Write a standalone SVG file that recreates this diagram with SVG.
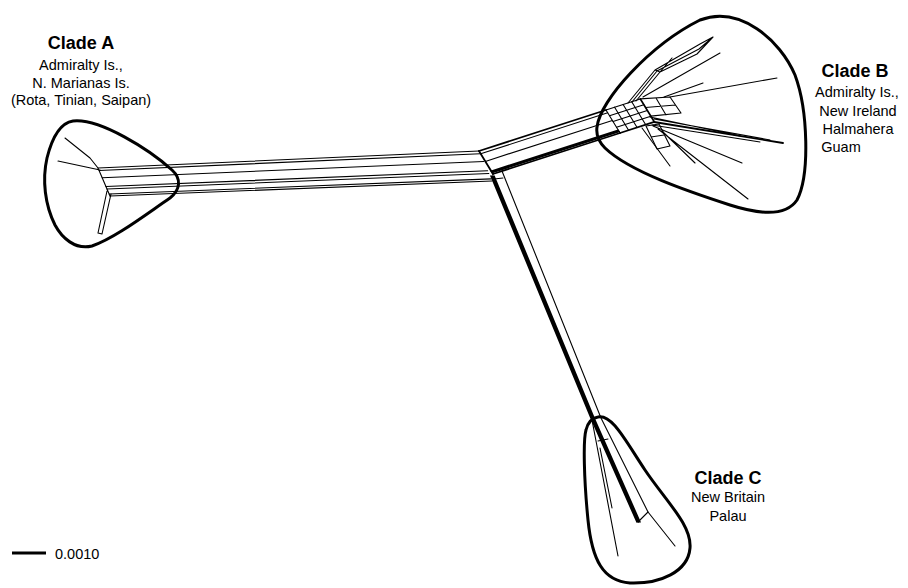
<svg xmlns="http://www.w3.org/2000/svg" width="908" height="588" viewBox="0 0 908 588">
<style>
.ln{stroke:#000;stroke-width:1.1;fill:none;stroke-linecap:round;stroke-linejoin:round}
.hv{stroke-width:1.8}
.st{stroke-width:1.6}
.blob{stroke:#000;stroke-width:3;fill:none}
.t{font-family:"Liberation Sans",Arial,sans-serif;font-size:14.5px;fill:#000;text-anchor:middle}
.b{font-weight:bold;font-size:18px}
</style>
<rect width="908" height="588" fill="#fff"/>

<g id="connectors">
  <!-- band A - center -->
  <path class="ln" d="M98,168 L479,151 M99.1,170.5 L480.2,153.7 M102.2,177.8 L483.6,161.5 M105.9,186.5 L487.6,170.8 M107,189 L488.8,173.5 M109.2,194 L491.1,178.9 M110,196 L492,181"/>
  <!-- center edge -->
  <path class="ln hv" d="M479,151 L493,174"/>
  <!-- band center - B -->
  <path class="ln hv" d="M479,151 L606,110"/>
  <path class="ln" d="M480.7,153.8 L607.7,112.8 M485.3,161.4 L612.3,120.4"/>
  <path class="ln st" d="M491.3,171.2 L618.3,130.2 M492.2,172.6 L619.2,131.6"/>
  <path class="ln hv" d="M493,174 L620,133"/>
  <!-- band center - C -->
  <path class="ln st" d="M491,176 L591,418 L637,522 M492.5,176 L592.5,418 L638.5,522 M494,176 L594,418 L640,522"/>
  <path class="ln" d="M502,171 L601,418 L648,512 M494,179 L503,178"/>
</g>

<g id="clade-a">
  <path class="blob" d="M73,121 C100,118 150,150 172,170 C182,179 180,190 170,198 C145,215 115,238 92,246 C75,250 62,238 55,225 C45,205 42,180 47,158 C52,138 60,123 73,121 Z"/>
  <path class="ln" d="M98,168 L110,196 M65,138 L90,158 L98,168 M58,161 L100,170 M107,191 L98,233 M111,194 L102,234 M98,233 L102,234"/>
  <text class="t b" x="81" y="49">Clade A</text>
  <text class="t" x="81" y="70">Admiralty Is.,</text>
  <text class="t" x="81" y="87.5">N. Marianas Is.</text>
  <text class="t" x="81" y="105">(Rota, Tinian, Saipan)</text>
</g>

<g id="clade-b">
  <path class="blob" d="M597,127 C600,100 650,45 700,20 C740,5 780,40 795,75 C808,110 810,175 797,200 C785,218 755,213 730,205 C690,192 630,172 605,148 C598,141 596,134 597,127 Z"/>
  <!-- grid -->
  <path class="ln" d="M606,110 L640.3,98.9 M609.5,115.75 L643.8,104.65 M613,121.5 L647.3,110.4 M616.5,127.25 L650.8,116.15"/>
  <path class="ln hv" d="M620,133 L654.3,121.9"/>
  <path class="ln" d="M606,110 L620,133 M614.6,107.2 L628.6,130.2 M623.1,104.5 L637.1,127.5 M631.7,101.7 L645.7,124.7"/>
  <path class="ln hv" d="M640.3,98.9 L654.3,121.9"/>
  <!-- upper box -->
  <path class="ln" d="M640.3,98.9 L670,97 L681,113 L650.8,116.15 M645.5,107.5 L675.5,105 M656,98 L666,115"/>
  <!-- upper leaves -->
  <path class="ln" d="M670,97 L777,78 M664,97 L703,83 M643,97 L720,53"/>
  <path class="ln" d="M628,103 L655,70 L700,44 L713,37 M632,102 L657,71 L699,49 L713,37 M636,101 L660,72 L697,54 L713,37 M655,70 L660,72 M660,72 L672,58"/>
  <!-- lower right fan -->
  <path class="ln hv" d="M654,122 L783,143"/>
  <path class="ln" d="M654,119 L770,140 M652,125 L760,142 M650,117 L740,136 M653,126 L742,163 M658,129 L748,199 M642,128 L670,166 M662,131 L695,163"/>
  <path class="ln" d="M646,126 L659,124 L670,146 L657,149 Z M651,137 L664,135"/>
  <text class="t b" x="855" y="77">Clade B</text>
  <text class="t" x="857" y="97">Admiralty Is.,</text>
  <text class="t" x="858" y="115.5">New Ireland</text>
  <text class="t" x="858" y="133.5">Halmahera</text>
  <text class="t" x="841" y="151.5">Guam</text>
</g>

<g id="clade-c">
  <path class="blob" d="M598,417 C612,414 625,440 645,470 C665,500 692,525 690,548 C688,572 660,584 630,583 C603,581 592,560 588,520 C584,480 583,440 586,430 C588,422 592,418 598,417 Z"/>
  <path class="ln" d="M592,420 L618,556 M600,448 L612,508 M648,512 L675,546 M598,441 L608,439 M638,522 L648,512"/>
  <text class="t b" x="728" y="484">Clade C</text>
  <text class="t" x="728" y="502">New Britain</text>
  <text class="t" x="728" y="521">Palau</text>
</g>

<g id="scale">
  <line x1="12" y1="553" x2="46" y2="553" stroke="#000" stroke-width="3"/>
  <text class="t" x="55" y="559" style="text-anchor:start">0.0010</text>
</g>
</svg>
